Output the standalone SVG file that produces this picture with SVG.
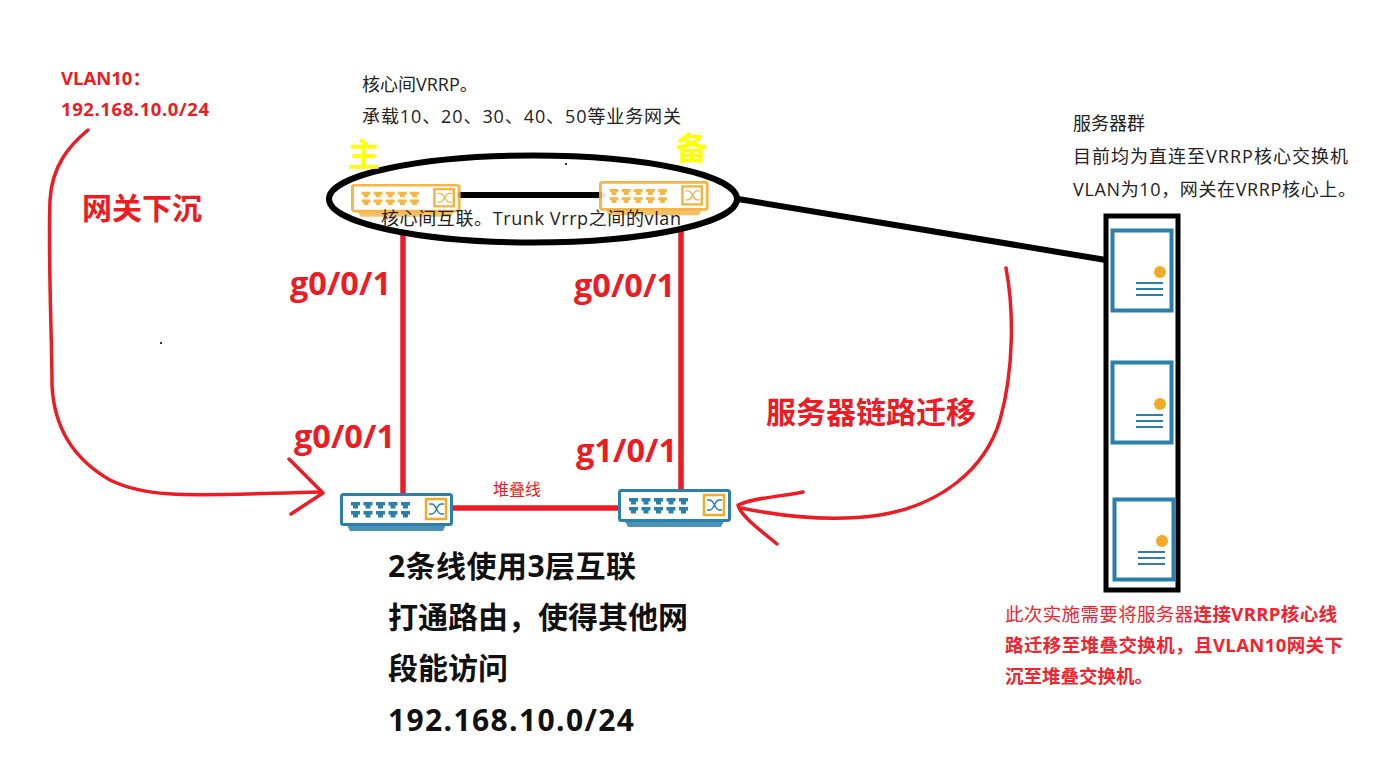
<svg xmlns="http://www.w3.org/2000/svg" width="1375" height="782" viewBox="0 0 1375 782">
<style>
text{font-family:"Open Sans","Noto Sans CJK SC",sans-serif}
.note{font-size:18px;fill:#222}
.big{font-size:30px;font-weight:700;fill:#ed1c24}
.port{font-size:32.500px;font-weight:700;fill:#ed1c24}
.blk{font-size:30px;font-weight:700;fill:#111}
.red{font-size:18.500px;fill:#f5222d;font-weight:700}
.thin{font-weight:400}
.vl{font-size:18.500px;font-weight:700;fill:#ed1c24}
.yl{font-size:32px;font-weight:700;fill:#ffff00}
.link{stroke:#ed1c24;stroke-width:5.500;fill:none}
.pen{stroke:#ed1c24;stroke-width:3.500;fill:none;stroke-linecap:round;stroke-linejoin:round}
.blue{color:#2a7fab}
.amber{color:#f5ae35;opacity:.9}
</style>
<defs>
<path id="p" d="M0 0h9v3.500h-2v3h-5v-3h-2z"/>
<g id="sw">
<path d="M7 32h99l-3 6h-93z" fill="currentColor" opacity=".85"/>
<rect x="1.500" y="1.500" width="110" height="30" rx="2" fill="#fff" stroke="currentColor" stroke-width="3"/>
<g fill="currentColor">
<use href="#p" x="11" y="9"/><use href="#p" x="23.500" y="9"/><use href="#p" x="36" y="9"/><use href="#p" x="48.500" y="9"/><use href="#p" x="61" y="9"/>
<use href="#p" x="11" y="18"/><use href="#p" x="23.500" y="18"/><use href="#p" x="36" y="18"/><use href="#p" x="48.500" y="18"/><use href="#p" x="61" y="18"/>
</g>
<rect x="86" y="6" width="20" height="20" fill="#fff" stroke="#f2ab27" stroke-width="2.500"/>
<path d="M89 11h3c4 0 5 10 9 10h3M89 21h3c4 0 5-10 9-10h3" fill="none" stroke="currentColor" stroke-width="1.500"/>
</g>
<g id="srv">
<rect x="1.500" y="1.500" width="59" height="80" fill="#fff" stroke="#2a7fab" stroke-width="4"/>
<circle cx="49" cy="43" r="6" fill="#f2ab27"/>
<path d="M25 54h27M25 60h27M25 66h27" stroke="#2a7fab" stroke-width="1.800" fill="none"/>
</g>
</defs>
<rect width="1375" height="782" fill="#fff"/>

<g id="connectors">
<path d="M403 230V495M681 228V491" class="link"/>
<path d="M450 508H622" class="link"/>
<path d="M460 195H603" stroke="#000" stroke-width="6" stroke-linecap="round" fill="none"/>
<path d="M738 199L1106 260" stroke="#000" stroke-width="6" fill="none"/>
<path class="pen" d="M88 130C70 145 52 165 50 200C48 260 52 340 52 385C54 430 75 460 110 480C150 500 200 495 320 492"/>
<path class="pen" d="M289 459L323 493L291 514"/>
<path class="pen" d="M1006 268C1014 310 1014 370 1000 420C985 470 940 505 880 515C840 521 790 518 741 508"/>
<path class="pen" d="M803 492C780 497 755 497 738 505C740 515 760 530 777 544"/>
</g>

<g id="core-ellipse"><ellipse cx="533" cy="199" rx="204" ry="43.500" fill="none" stroke="#000" stroke-width="6"/></g>

<g id="switch-master" class="amber"><use href="#sw" transform="translate(351,184) scale(.97,.86)"/></g>
<g id="switch-backup" class="amber"><use href="#sw" transform="translate(599,181) scale(.97,.9)"/></g>
<g id="switch-stack-1" class="blue"><use href="#sw" transform="translate(340,493)"/></g>
<g id="switch-stack-2" class="blue"><use href="#sw" transform="translate(618,489)"/></g>

<g id="server-group">
<rect x="1106" y="216" width="72" height="374" fill="none" stroke="#000" stroke-width="5"/>
<g id="server-1"><use href="#srv" x="1111" y="229"/></g>
<g id="server-2"><use href="#srv" x="1111" y="361"/></g>
<g id="server-3"><use href="#srv" x="1113" y="498"/></g>
</g>

<g id="specks" fill="#333"><rect x="565" y="163" width="2" height="2"/><rect x="160" y="342" width="2" height="2"/></g>

<g id="labels">
<text x="61" y="85" class="vl">VLAN10：</text>
<text x="61" y="116" class="vl" textLength="148">192.168.10.0/24</text>
<text x="362" y="91" class="note">核心间VRRP。</text>
<text x="362" y="123" class="note" textLength="319">承载10、20、30、40、50等业务网关</text>
<text x="348" y="166" class="yl">主</text>
<text x="676" y="160" class="yl">备</text>
<text x="381" y="225" class="note" textLength="300">核心间互联。Trunk Vrrp之间的vlan</text>
<text x="82" y="219" class="big">网关下沉</text>
<text x="290" y="295" class="port">g0/0/1</text>
<text x="574" y="297" class="port">g0/0/1</text>
<text x="294" y="448" class="port">g0/0/1</text>
<text x="576" y="462" class="port" textLength="101">g1/0/1</text>
<text x="493" y="495" style="font-size:16px;fill:#ed1c24">堆叠线</text>
<text x="766" y="423" class="big">服务器链路迁移</text>
<text x="388" y="577" class="blk" textLength="248">2条线使用3层互联</text>
<text x="388" y="628" class="blk">打通路由，使得其他网</text>
<text x="388" y="679" class="blk">段能访问</text>
<text x="388" y="731" class="blk" textLength="246">192.168.10.0/24</text>
<text x="1073" y="130" class="note">服务器群</text>
<text x="1073" y="163" class="note" textLength="275">目前均为直连至VRRP核心交换机</text>
<text x="1073" y="196" class="note" textLength="283">VLAN为10，网关在VRRP核心上。</text>
<text x="1005" y="621" class="red" textLength="332"><tspan class="thin">此次实施需要将服务器</tspan>连接VRRP核心线</text>
<text x="1005" y="652" class="red" textLength="338">路迁移至堆叠交换机，且VLAN10网关下</text>
<text x="1005" y="683" class="red">沉至堆叠交换机。</text>
</g>
</svg>
